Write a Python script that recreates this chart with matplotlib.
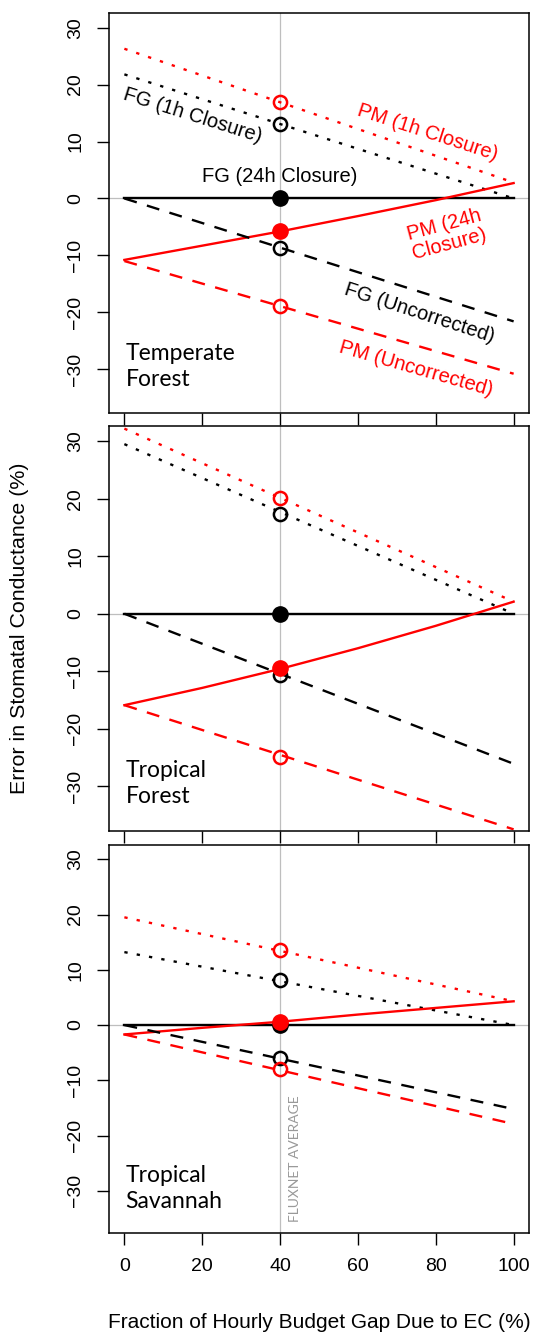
import matplotlib
matplotlib.use("Agg")
import matplotlib.pyplot as plt

plt.rcParams['font.family'] = ['Liberation Sans', 'DejaVu Sans']

# x positions
x_ends = [0, 100]
x_curve = [0, 20, 40, 60, 80, 100]
x_avg = 40

panel_names = ["Temperate\nForest", "Tropical\nForest", "Tropical\nSavannah"]

# line end values (x=0, x=100) per panel
fg_1h = [[21.8, 0.0], [29.5, 0.0], [13.2, 0.0]]
pm_1h = [[26.3, 2.8], [32.2, 2.1], [19.5, 4.3]]
fg_24h = [[0.0, 0.0], [0.0, 0.0], [0.0, 0.0]]
fg_unc = [[0.0, -21.6], [0.0, -26.1], [0.0, -15.2]]
pm_unc = [[-11.0, -30.8], [-15.9, -37.5], [-1.7, -17.9]]
# PM 24h is slightly curved
pm_24h = [[-10.8, -8.3, -5.8, -3.1, -0.3, 2.7],
          [-15.9, -12.9, -9.6, -6.0, -2.1, 2.1],
          [-1.7, -0.5, 0.6, 1.9, 3.1, 4.3]]

# values at the FLUXNET average (40%)
fg_1h_pt = [13.0, 17.3, 8.1]
pm_1h_pt = [16.9, 20.1, 13.5]
fg_24h_pt = [0.0, 0.0, 0.0]
pm_24h_pt = [-5.8, -9.5, 0.6]
fg_unc_pt = [-8.7, -10.6, -5.9]
pm_unc_pt = [-18.9, -24.9, -8.0]

xticks = [0, 20, 40, 60, 80, 100]
yticks = [-30, -20, -10, 0, 10, 20, 30]

W, H = 533, 1339
fig = plt.figure(figsize=(W / 100, H / 100), dpi=100)

# panel boxes in pixels (top, bottom)
boxes = [(12.9, 413.0), (426.3, 830.5), (844.9, 1233.4)]
left, right = 108.8, 529.2

dot = (0, (1.4, 3.9))
dash = (0, (5.5, 4.5))
lw = 1.7
grey = '#bebebe'
lab_fs = 14.5

axes = []
for i, (top, bot) in enumerate(boxes):
    ax = fig.add_axes([left / W, 1 - bot / H, (right - left) / W, (bot - top) / H])
    axes.append(ax)
    ax.axvline(x_avg, color=grey, lw=0.9, zorder=0)
    ax.axhline(0, color=grey, lw=0.9, zorder=0)

    ax.plot(x_ends, fg_1h[i], color='black', ls=dot, lw=lw)
    ax.plot(x_ends, pm_1h[i], color='red', ls=dot, lw=lw)
    ax.plot(x_ends, fg_24h[i], color='black', ls='-', lw=lw)
    ax.plot(x_curve, pm_24h[i], color='red', ls='-', lw=lw)
    ax.plot(x_ends, fg_unc[i], color='black', ls=dash, lw=lw)
    ax.plot(x_ends, pm_unc[i], color='red', ls=dash, lw=lw)

    for v, c in [(fg_1h_pt[i], 'black'), (pm_1h_pt[i], 'red'),
                 (fg_unc_pt[i], 'black'), (pm_unc_pt[i], 'red')]:
        ax.plot(x_avg, v, 'o', mfc='none', mec=c, ms=9.5, mew=1.8)
    ax.plot(x_avg, fg_24h_pt[i], 'o', color='black', ms=11)
    ax.plot(x_avg, pm_24h_pt[i], 'o', color='red', ms=11)

    ax.set_xlim(-4, 104)
    ax.set_ylim(-37.7, 32.6)
    ax.set_xticks(xticks)
    ax.set_yticks(yticks)
    ax.set_yticklabels([str(v).replace('-', '\u2212') for v in yticks],
                       rotation=90, va='center')
    ax.tick_params(direction='out', length=8.6, width=1.0, labelsize=14, pad=9)
    if i < 2:
        ax.set_xticklabels([])
    for s in ax.spines.values():
        s.set_linewidth(1.1)

    ax.text(0.3, -29.6, panel_names[i], family=['Lato', 'DejaVu Sans'],
            fontsize=16.5, ha='left', va='center', linespacing=1.3)

axes[2].set_xticklabels([str(v) for v in xticks])

# curve labels on the first panel
a = axes[0]
a.text(17.4, 14.6, "FG (1h Closure)", fontsize=lab_fs, rotation=-17.5,
       ha='center', va='center')
a.text(77.9, 11.6, "PM (1h Closure)", fontsize=lab_fs, rotation=-18,
       color='red', ha='center', va='center')
a.text(39.8, 3.8, "FG (24h Closure)", fontsize=lab_fs, ha='center', va='center')
a.text(82.9, -6.3, "PM (24h\nClosure)", fontsize=lab_fs, rotation=15,
       color='red', ha='center', va='center', linespacing=1.05)
a.text(75.9, -20.1, "FG (Uncorrected)", fontsize=lab_fs, rotation=-18,
       ha='center', va='center')
a.text(75.0, -29.9, "PM (Uncorrected)", fontsize=lab_fs, rotation=-16,
       color='red', ha='center', va='center')

axes[2].text(43.8, -35.6, "FLUXNET AVERAGE", family=['Lato', 'DejaVu Sans'],
             fontsize=10, color='#999999', rotation=90, ha='center', va='bottom')

fig.text(20 / W, 1 - 628 / H, "Error in Stomatal Conductance (%)",
         rotation=90, fontsize=15.4, ha='center', va='center')
fig.text((left + right) / 2 / W, 1 - 1322 / H,
         "Fraction of Hourly Budget Gap Due to EC (%)",
         fontsize=15, ha='center', va='center')

fig.savefig("out.png", dpi=100)
